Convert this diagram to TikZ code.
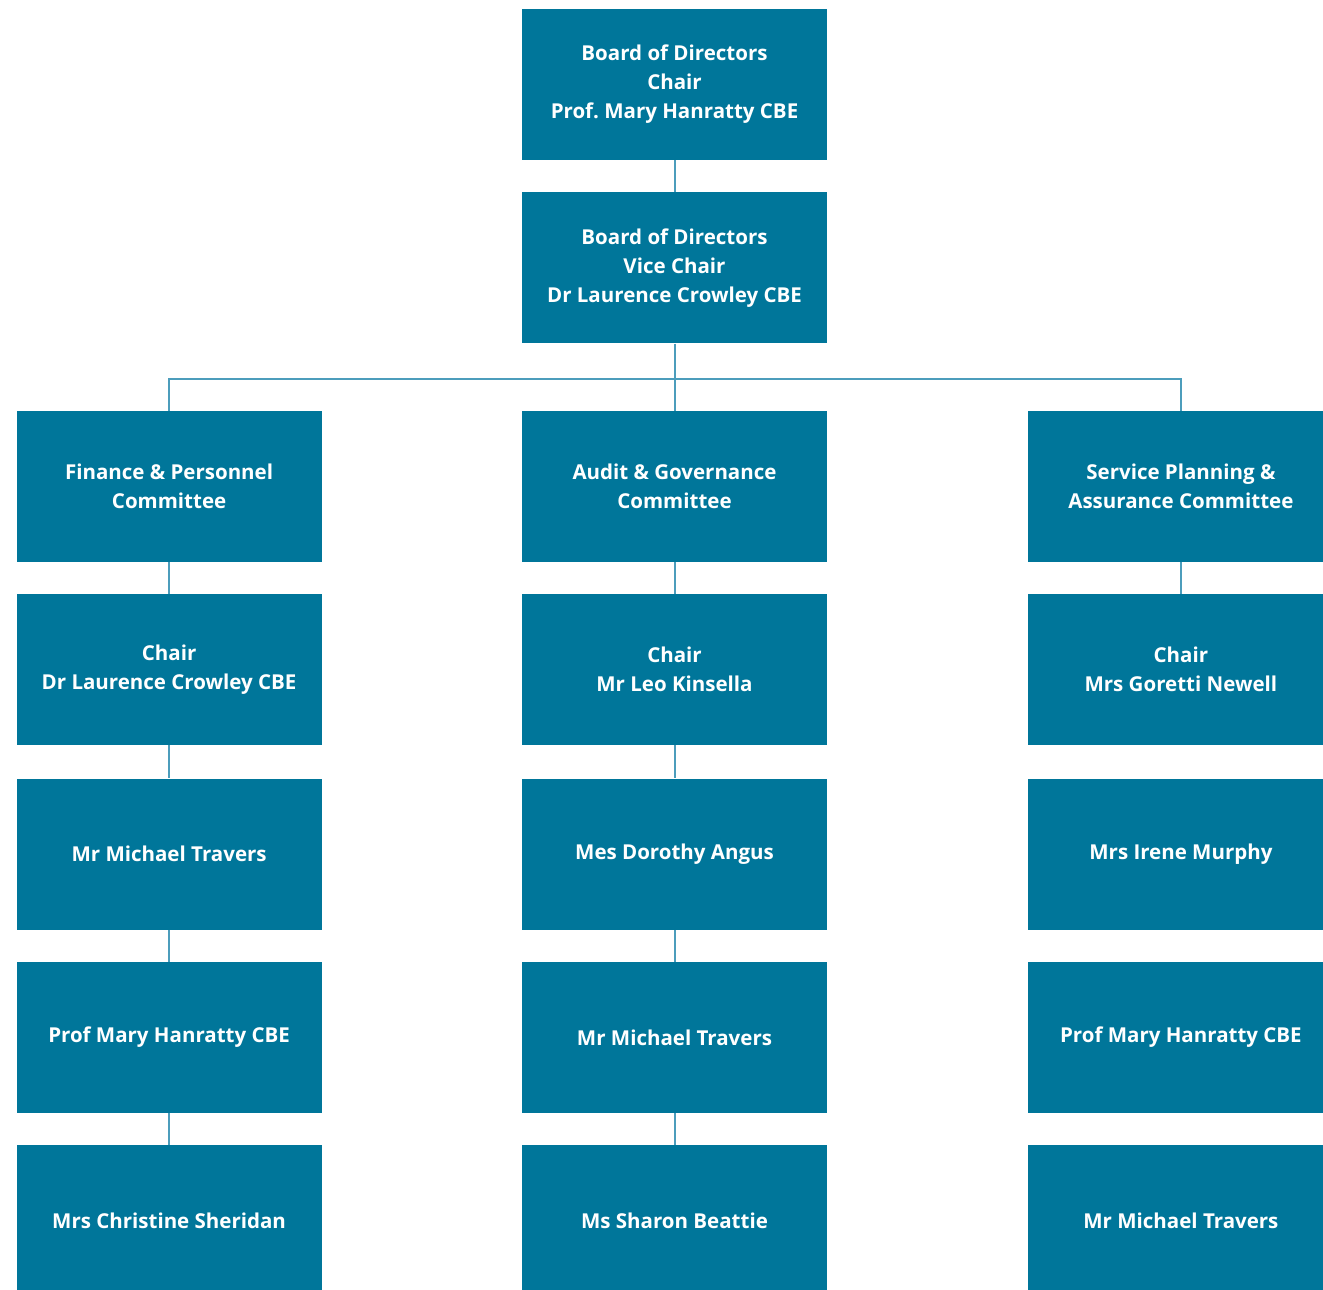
\documentclass[tikz,border=0pt]{standalone}
\usepackage{fontspec}
\setmainfont{Open Sans}
\usepackage{tikz}
\usetikzlibrary{positioning}
\definecolor{boxteal}{HTML}{00769A}
\definecolor{linkteal}{HTML}{4C9DBC}

\begin{document}
\begin{tikzpicture}[
				node distance=32pt,
				every node/.style={font=\fontsize{20.5}{29}\selectfont\bfseries},
				member/.style={rectangle, fill=boxteal, text=white, align=center,
					minimum width=305pt, minimum height=151pt, inner sep=0pt},
				link/.style={draw=linkteal, line width=2pt}]
				
			\useasboundingbox (0pt,0pt) rectangle (1323pt,-1290pt);
			
			\node[member] (board_chair) at (674.5pt,-84.5pt) {Board of Directors\\Chair\\Prof.\ Mary Hanratty CBE};
			\node[member, below=of board_chair] (board_vice) {Board of Directors\\Vice Chair\\Dr Laurence Crowley CBE};
			\node[member, below=67pt of board_vice] (audit) {Audit \& Governance\\Committee};
			\node[member, left=200pt of audit] (finance) {Finance \& Personnel\\Committee};
			\node[member, right=201pt of audit] (service) {Service Planning \&\\Assurance Committee};
			
			\node[member, below=of finance] (finance_chair) {Chair\\Dr Laurence Crowley CBE};
			\node[member, below=33pt of finance_chair] (finance_a) {Mr Michael Travers};
			\node[member, below=of finance_a] (finance_b) {Prof Mary Hanratty CBE};
			\node[member, below=of finance_b] (finance_c) {Mrs Christine Sheridan};
			
			\node[member, below=of audit] (audit_chair) {Chair\\Mr Leo Kinsella};
			\node[member, below=33pt of audit_chair] (audit_a) {Mes Dorothy Angus};
			\node[member, below=of audit_a] (audit_b) {Mr Michael Travers};
			\node[member, below=of audit_b] (audit_c) {Ms Sharon Beattie};
			
			\node[member, below=of service] (service_chair) {Chair\\Mrs Goretti Newell};
			\node[member, below=33pt of service_chair] (service_a) {Mrs Irene Murphy};
			\node[member, below=of service_a] (service_b) {Prof Mary Hanratty CBE};
			\node[member, below=of service_b] (service_c) {Mr Michael Travers};
			
			\coordinate (split) at ([yshift=-35pt]board_vice.south);
			
			\draw[link]	(board_chair) -- (board_vice);
			
			\draw[link]	(board_vice) -- (audit);
			
			\draw[link]	(finance.north) |- (split) -| (service.north);
			
			\draw[link]	(finance) -- (finance_chair);
			\draw[link]	(finance_chair) -- (finance_a);
			\draw[link]	(finance_a) -- (finance_b);
			\draw[link]	(finance_b) -- (finance_c);
			
			\draw[link]	(audit) -- (audit_chair);
			\draw[link]	(audit_chair) -- (audit_a);
			\draw[link]	(audit_a) -- (audit_b);
			\draw[link]	(audit_b) -- (audit_c);
			
			\draw[link]	(service) -- (service_chair);
		\end{tikzpicture}
\end{document}
